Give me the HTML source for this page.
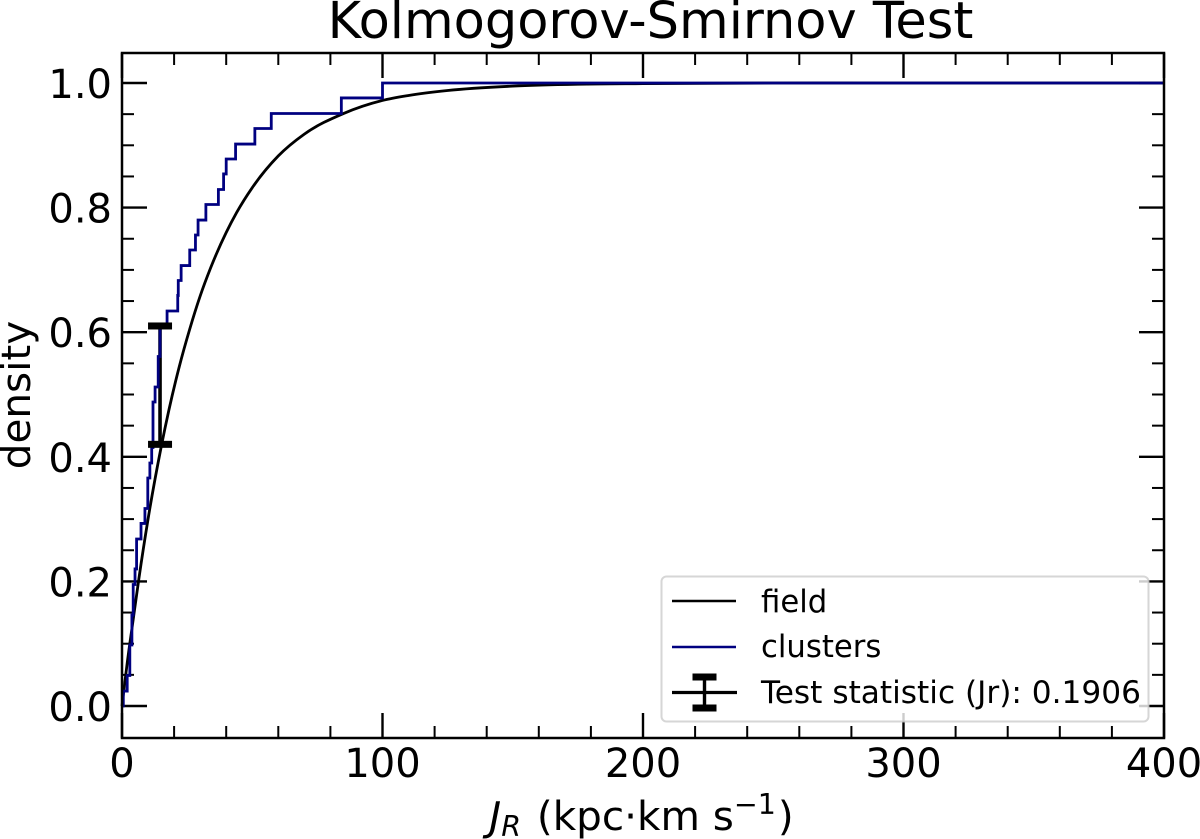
<!DOCTYPE html>
<html lang="en">
<head>
<meta charset="utf-8">
<title>Kolmogorov-Smirnov Test</title>
<style>
html,body{margin:0;padding:0;background:#fff;width:1200px;height:839px;overflow:hidden}
svg{display:block}
text{font-family:"DejaVu Sans","Liberation Sans",sans-serif;fill:#000}
</style>
</head>
<body>
<svg id="chart" xmlns="http://www.w3.org/2000/svg" width="1200" height="839" viewBox="0 0 1200 839">
  <rect x="0" y="0" width="1200" height="839" fill="#fff"/>
  <g id="ticks"></g>
  <g id="ticklabels"></g>
  <g id="series"></g>
  <rect x="661.5" y="576.5" width="487" height="145" rx="5" ry="5" fill="#fff" fill-opacity="0.8" stroke="#ccc" stroke-opacity="0.8" stroke-width="2"/>
  <rect x="122" y="53" width="1042" height="685" fill="none" stroke="#000" stroke-width="2.5"/>
  <text x="650.5" y="38" font-size="51" text-anchor="middle">Kolmogorov-Smirnov Test</text>
  <text transform="translate(30,395) rotate(-90)" font-size="40.5" text-anchor="middle">density</text>
  <text x="641.5" y="830" font-size="40.5" text-anchor="middle"><tspan font-style="italic">J</tspan><tspan font-style="italic" font-size="28.5" dy="6">R</tspan><tspan dy="-6" dx="3"> (kpc·km s</tspan><tspan font-size="28.5" dy="-16">−1</tspan><tspan dy="16" dx="2">)</tspan></text>
  <g>
    <line x1="672" y1="601" x2="736" y2="601" stroke="#000" stroke-width="2.4"/>
    <text x="761" y="612" font-size="30.7">field</text>
    <line x1="672" y1="647" x2="736" y2="647" stroke="#000080" stroke-width="2.4"/>
    <text x="761" y="657" font-size="30.7">clusters</text>
    <line x1="672" y1="692.5" x2="737" y2="692.5" stroke="#000" stroke-width="3.2"/>
    <line x1="704.5" y1="677" x2="704.5" y2="707" stroke="#000" stroke-width="3.4"/>
    <rect x="692.5" y="673.5" width="24" height="7" fill="#000"/>
    <rect x="692.5" y="704.5" width="24" height="7" fill="#000"/>
    <text x="761" y="703" font-size="31.2">Test statistic (Jr): 0.1906</text>
  </g>
</svg>
<script>
// Axis tick labels
const xTickLabels = [0, 100, 200, 300, 400];
const yTickLabels = [0.0, 0.2, 0.4, 0.6, 0.8, 1.0];
const xMinorTicks = [20, 40, 60, 80, 120, 140, 160, 180, 220, 240, 260, 280, 320, 340, 360, 380];
const yMinorTicks = [0.05, 0.1, 0.15, 0.25, 0.3, 0.35, 0.45, 0.5, 0.55, 0.65, 0.7, 0.75, 0.85, 0.9, 0.95];

// Field CDF samples
const fieldX = [0, 1, 2, 4, 6.5, 10, 15, 18, 22, 26, 30, 34, 40, 44, 50, 60, 70, 85, 100, 110, 125, 150, 175, 200, 250, 300, 400];
const fieldY = [0, 0.035, 0.069, 0.13, 0.205, 0.3, 0.415, 0.475, 0.545, 0.605, 0.658, 0.703, 0.76, 0.792, 0.832, 0.883, 0.918, 0.951, 0.972, 0.98, 0.988, 0.995, 0.998, 0.999, 1, 1, 1];

// Clusters CDF: step positions and levels
const clusterX = [0.5, 2, 3, 3, 3.8, 3.8, 4.3, 4.3, 5, 5.6, 5.6, 7.3, 8.8, 9.9, 9.9, 10.7, 11.4, 11.9, 11.9, 11.9, 12.7, 13.9, 13.9, 14.6, 14.6, 17.3, 21.4, 21.6, 22.7, 26, 28.2, 29.2, 32.2, 37, 39, 40, 43.6, 51, 57.3, 84.2, 100, 400];
const clusterY = [0.024, 0.049, 0.073, 0.098, 0.122, 0.146, 0.171, 0.195, 0.22, 0.244, 0.268, 0.293, 0.317, 0.341, 0.366, 0.39, 0.415, 0.439, 0.463, 0.488, 0.512, 0.537, 0.561, 0.585, 0.61, 0.634, 0.659, 0.683, 0.707, 0.732, 0.756, 0.78, 0.805, 0.829, 0.854, 0.878, 0.902, 0.927, 0.951, 0.976, 1, 1];

// KS statistic marker
const statX = [14.6];
const statLow = [0.42];
const statHigh = [0.61];

const xPx = v => 122 + v * (1164 - 122) / 400;
const yPx = v => 706 - v * (706 - 83);
const NS = 'http://www.w3.org/2000/svg';
function make(tag, parent) {
  const el = document.createElementNS(NS, tag);
  document.getElementById(parent).appendChild(el);
  return el;
}
function tickLine(x1, y1, x2, y2, w) {
  const el = make('line', 'ticks');
  el.setAttribute('x1', x1);
  el.setAttribute('y1', y1);
  el.setAttribute('x2', x2);
  el.setAttribute('y2', y2);
  el.setAttribute('stroke', '#000');
  el.setAttribute('stroke-width', w);
  
  
}
const MAJOR = 25, MINOR = 12;
xTickLabels.forEach(v => {
  const x = xPx(v);
  tickLine(x, 738, x, 738 - MAJOR, 2.4);
  tickLine(x, 53, x, 53 + MAJOR, 2.4);
  const t = make('text', 'ticklabels');
  t.setAttribute('x', x);
  t.setAttribute('y', 777);
  t.setAttribute('font-size', 40);
  t.setAttribute('text-anchor', 'middle');
  t.textContent = String(v);
  
  
});
xMinorTicks.forEach(v => {
  const x = xPx(v);
  tickLine(x, 738, x, 738 - MINOR, 2);
  tickLine(x, 53, x, 53 + MINOR, 2);
});
yTickLabels.forEach(v => {
  const y = yPx(v);
  tickLine(122, y, 122 + MAJOR, y, 2.4);
  tickLine(1164, y, 1164 - MAJOR, y, 2.4);
  const t = make('text', 'ticklabels');
  t.setAttribute('x', 112);
  t.setAttribute('y', y + 15);
  t.setAttribute('font-size', 40);
  t.setAttribute('text-anchor', 'end');
  t.textContent = v.toFixed(1);
  
  
});
yMinorTicks.forEach(v => {
  const y = yPx(v);
  tickLine(122, y, 122 + MINOR, y, 2);
  tickLine(1164, y, 1164 - MINOR, y, 2);
});

// Smooth path through the field samples (Hermite with finite-difference slopes)
const slopes = fieldX.map((v, i) => {
  if (i === 0) return (fieldY[1] - fieldY[0]) / (fieldX[1] - fieldX[0]);
  if (i === fieldX.length - 1) return 0;
  const h0 = v - fieldX[i - 1], h1 = fieldX[i + 1] - v;
  const d0 = (fieldY[i] - fieldY[i - 1]) / h0, d1 = (fieldY[i + 1] - fieldY[i]) / h1;
  return (d0 * h1 + d1 * h0) / (h0 + h1);
});
let fieldD = 'M' + xPx(fieldX[0]) + ' ' + yPx(fieldY[0]);
for (let i = 0; i < fieldX.length - 1; i++) {
  const h = (fieldX[i + 1] - fieldX[i]) / 3;
  fieldD += ' C' + xPx(fieldX[i] + h) + ' ' + yPx(fieldY[i] + slopes[i] * h) +
    ' ' + xPx(fieldX[i + 1] - h) + ' ' + yPx(fieldY[i + 1] - slopes[i + 1] * h) +
    ' ' + xPx(fieldX[i + 1]) + ' ' + yPx(fieldY[i + 1]);
}
const fieldLine = make('path', 'series');
fieldLine.setAttribute('d', fieldD);
fieldLine.setAttribute('fill', 'none');
fieldLine.setAttribute('stroke', '#000');
fieldLine.setAttribute('stroke-width', 2.8);



// Statistic error bar stem under the clusters line
const stem = make('line', 'series');
stem.setAttribute('x1', xPx(statX[0]));
stem.setAttribute('x2', xPx(statX[0]));
stem.setAttribute('y1', yPx(statLow[0]));
stem.setAttribute('y2', yPx(statHigh[0]));
stem.setAttribute('stroke', '#000');
stem.setAttribute('stroke-width', 3.6);



// Clusters step line
let clusterD = 'M' + xPx(0) + ' ' + yPx(0);
clusterX.forEach((v, i) => {
  clusterD += ' L' + xPx(v) + ' ' + yPx(i === 0 ? 0 : clusterY[i - 1]);
  clusterD += ' L' + xPx(v) + ' ' + yPx(clusterY[i]);
});
const clusterLine = make('path', 'series');
clusterLine.setAttribute('d', clusterD);
clusterLine.setAttribute('fill', 'none');
clusterLine.setAttribute('stroke', '#000080');
clusterLine.setAttribute('stroke-width', 2.8);



// Error bar caps
const capTop = make('rect', 'series');
capTop.setAttribute('x', xPx(statX[0]) - 12);
capTop.setAttribute('y', yPx(statHigh[0]) - 3.5);
capTop.setAttribute('width', 24);
capTop.setAttribute('height', 7);
capTop.setAttribute('fill', '#000');


const capBottom = make('rect', 'series');
capBottom.setAttribute('x', xPx(statX[0]) - 12);
capBottom.setAttribute('y', yPx(statLow[0]) - 3.5);
capBottom.setAttribute('width', 24);
capBottom.setAttribute('height', 7);
capBottom.setAttribute('fill', '#000');


</script>
</body>
</html>
